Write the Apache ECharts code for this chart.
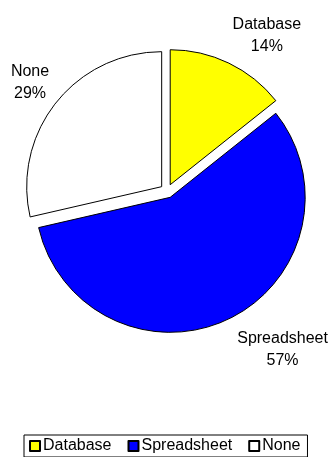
<!DOCTYPE html>
<html><head><meta charset="utf-8">
<script src="https://cdn.jsdelivr.net/npm/echarts@6/dist/echarts.min.js"></script>
<style>html,body{margin:0;padding:0;background:#fff}#c{width:331px;height:457px}</style>
</head><body><div id="c"></div>
<script>
const categories = ['Database', 'Spreadsheet', 'None'];
const values = [14.3, 57.1, 28.6];
const colors = ['#FFFF00', '#0000FF', '#FFFFFF'];
// label placement (length, length2) per slice — layout only
const labelLens = [[30, 20], [34, 34], [32, -4]];

const FONT = '"Liberation Sans", Arial, sans-serif';
const chart = echarts.init(document.getElementById('c'), null, {renderer: 'canvas'});
chart.setOption({
  animation: false,
  backgroundColor: '#fff',
  legend: {
    bottom: 0,
    left: 24,
    data: categories,
    icon: 'rect',
    itemWidth: 10,
    itemHeight: 10,
    itemGap: 16,
    padding: [3, 7, 3, 5],
    borderColor: '#000',
    borderWidth: 1,
    selectedMode: false,
    textStyle: {fontFamily: FONT, fontSize: 16, color: '#000', padding: [0, 0, 0, -2]}
  },
  series: [{
    type: 'pie',
    center: ['50.5%', '41.8%'],
    radius: 135,
    startAngle: 90,
    clockwise: true,
    selectedMode: 'multiple',
    selectedOffset: 7,
    percentPrecision: 0,
    emphasis: {disabled: true},
    itemStyle: {borderColor: '#000', borderWidth: 1},
    label: {
      show: true,
      position: 'outside',
      formatter: '{b}\n{d}%',
      fontFamily: FONT,
      fontSize: 16,
      lineHeight: 22,
      color: '#000',
      overflow: 'none',
      distanceToLabelLine: 5
    },
    labelLine: {show: false},
    labelLayout: function () { return {align: 'center'}; },
    data: categories.map((name, i) => ({
      name: name,
      value: values[i],
      selected: true,
      itemStyle: {color: colors[i]},
      labelLine: {show: false, length: labelLens[i][0], length2: labelLens[i][1]}
    }))
  }]
});
</script>
</body></html>
